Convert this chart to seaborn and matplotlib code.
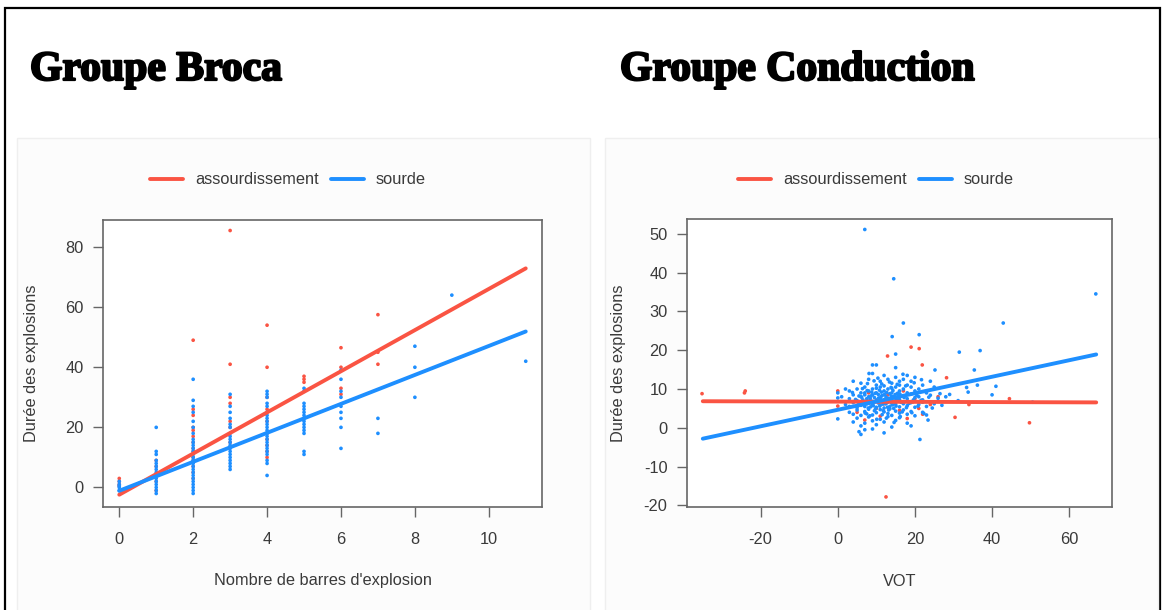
import matplotlib
matplotlib.use("Agg")
import matplotlib.pyplot as plt
import matplotlib.patheffects as pe
from matplotlib.lines import Line2D
from matplotlib.patches import Rectangle
import seaborn as sns
import pandas as pd

# --- data ---
labels = ["assourdissement", "sourde"]
red = "#FA5443"
blue = "#1E8FFF"

# Groupe Broca: durée des explosions per number of burst bars
broca_bars = [0, 1, 2, 3, 4, 5, 6, 7, 8, 9, 11]
broca_blue = [
    [-1, 0, 0.5, 1, 2],
    [20, 12, 11, 9, 8, 7, 6, 5, 4, 3, 2, 1, 0, -1, -2],
    [36, 29, 27, 25, 22, 20, 18, 16, 15, 14, 13, 12, 11, 10, 9, 8, 7, 6, 5, 4, 3, 2, 1, 0, -1, -2],
    [31, 27, 25, 23, 21, 20, 18, 17, 16, 15, 14, 13, 12, 11, 10, 9, 8, 7, 6],
    [32, 31, 30, 28, 27, 25, 24, 23, 22, 21, 20, 19, 18, 17, 16, 15, 14, 13, 12, 11, 9, 8, 4],
    [33, 32, 28, 27, 26, 25, 24, 23, 22, 21, 20, 19, 18, 12, 11],
    [39, 36, 32, 30, 27, 25, 23, 20, 13],
    [23, 18],
    [47, 40, 30],
    [64],
    [42],
]
broca_red = [
    [3, 2, 1, 0.5],
    [9, 7, 4, 2, -1],
    [49, 26, 24, 20, 19, 17, 15, 13, 12, 10, 9, 7, 5, 3],
    [85.5, 41, 30, 28, 22, 20, 15],
    [54, 40, 30, 26, 22, 18, 16, 14, 12, 10],
    [37, 36, 35],
    [46.5, 40, 33, 31],
    [57.5, 45, 41],
    [],
    [],
    [],
]
# fitted lines (end points)
broca_fit_x = [0, 11]
broca_fit_red = [-2.4, 72.9]
broca_fit_blue = [-1.1, 51.9]

# Groupe Conduction: (VOT, durée)
cond_blue = [
    (4, 12), (6, 11.5), (8, 12.5), (10, 11), (11, 12), (13, 12.5), (14, 11.5), (15, 13), (16, 12),
    (17, 12.5), (18, 11), (19, 12), (20, 13), (22, 11), (24, 12), (12, 13.5), (9, 14), (18, 13.5),
    (2, 10), (3, 9.5), (5, 10), (6, 9), (7, 10.5), (8, 9.5), (9, 10), (10, 9), (11, 10.5), (12, 9.5),
    (13, 10), (14, 9), (15, 10.5), (16, 9.5), (17, 10), (18, 9), (19, 10.5), (20, 9.5), (21, 10),
    (23, 9), (25, 10.5), (7, 9), (10, 10.2), (12, 10.8), (14, 10.2), (16, 11),
    (1, 8), (3, 7.5), (4, 8.5), (5, 7), (5.5, 8.2), (6, 8), (6.5, 7.2), (7, 8.5), (7.5, 7.5), (8, 8),
    (8.5, 7), (9, 8.5), (9.5, 7.8), (10, 7.2), (10.5, 8.6), (11, 7.5), (11.5, 8.3), (12, 7), (12.5, 8),
    (13, 7.6), (13.5, 8.8), (14, 7.2), (14.5, 8.1), (15, 7.7), (15.5, 8.9), (16, 7.3), (17, 8.2),
    (18, 7.5), (19, 8.7), (20, 7.8), (21, 8), (22, 7.2), (24, 8.4), (26, 7.6), (28, 8),
    (2, 6), (3, 5.5), (4, 6.5), (5, 5.2), (5.5, 6.3), (6, 5.8), (6.5, 6.8), (7, 5.5), (7.5, 6.2),
    (8, 6.9), (8.5, 5.4), (9, 6.1), (9.5, 6.7), (10, 5.3), (10.5, 6.4), (11, 5.9), (11.5, 6.8),
    (12, 5.1), (12.5, 6.2), (13, 6.6), (13.5, 5.5), (14, 6.3), (14.5, 5.0), (15, 6.1), (15.5, 6.9),
    (16, 5.4), (17, 6.2), (18, 5.7), (19, 6.5), (20, 5.3), (21, 6.0), (22, 6.6), (23, 5.5), (25, 6.2),
    (27, 5.8),
    (3, 4), (4, 3.5), (5, 4.6), (6, 3.2), (7, 4.2), (7.5, 3.6), (8, 4.8), (9, 3.3), (9.5, 4.4),
    (10, 3.9), (11, 4.7), (11.5, 3.4), (12, 4.1), (13, 3.7), (13.5, 4.9), (14, 3.2), (15, 4.3),
    (16, 3.8), (17, 4.6), (18, 3.5), (19, 4.2), (20, 3.1), (22, 4.0), (23, 3.3),
    (0, 2.3), (4, 1.5), (5, 2.5), (6, 0.5), (7, 1.2), (8, 2.8), (9, 1.8), (10, 0.8), (11, 2.2),
    (12, 1.5), (13, 2.9), (14, 0.2), (15, 1.9), (16, 2.6), (18, 1.2), (19, 0.5), (23.4, 2), (22.3, 3.7),
    (6, -1.7), (5.5, -1), (7, -0.5), (21.3, -3), (12, -1.3), (9, -0.3),
    (6.2, 7.9), (7.3, 6.4), (8.4, 7.6), (9.2, 5.7), (10.3, 6.9), (11.2, 8.1), (12.3, 6.5), (13.1, 7.3),
    (14.2, 5.9), (15.3, 7.1), (16.4, 6.6), (17.2, 7.8), (8.8, 9.2), (10.8, 9.7), (12.7, 9.1),
    (13.8, 10.4), (15.8, 8.4), (11.8, 4.4), (9.8, 4.9), (13.2, 4.6), (7.9, 5.1), (6.8, 6.6),
    (10.6, 7.7), (12.1, 8.6), (14.7, 6.7), (16.7, 4.1), (18.5, 6.3), (19.6, 7.2), (20.5, 8.4),
    (9.4, 12.1), (11.4, 11.3), (13.4, 11.8), (15.4, 11.2), (17.6, 10.8), (8.3, 3.1), (10.1, 2.2),
    (12.6, 2.5), (14.6, 1.4), (16.2, 2.9), (7.1, 3.8), (5.2, 5.8), (4.6, 7.3), (3.8, 9.1),
    (11.7, 6.1), (12.9, 5.3), (13.6, 6.9), (14.9, 8.6), (9.7, 8.9), (8.6, 8.2), (7.6, 9.6),
    (6.4, 10.1), (17.8, 5.2), (19.2, 3.9), (20.8, 5.6), (21.6, 7.1), (23.6, 7.9), (24.5, 5.1),
    (9.1, 6.8), (10.9, 5.6), (12.4, 7.4), (13.9, 8.1), (15.1, 5.6), (16.1, 8.7), (11.3, 9.2),
    (14.3, 9.6), (7.7, 11.4), (10.4, 12.8), (16.9, 13.8), (19.8, 11.6), (21.7, 12.4),
    (0, 9), (0, 7.7), (7, 51.1), (14.5, 38.4), (66.9, 34.5), (17, 27), (42.9, 27), (21.1, 24),
    (14.1, 23.5), (36.9, 19.9), (31.5, 19.5), (15, 19), (9, 16.2), (10, 16.2), (15, 15.5),
    (35.4, 14.9), (25.2, 14.9), (8.1, 14), (50.5, 6.6), (40, 8.5), (41, 10.7), (36.2, 11),
    (33.4, 10.4), (33.8, 9.2), (31.2, 7), (26.5, 8.8), (29, 8.6),
]
cond_red = [
    (-35.2, 8.8), (-24, 9.5), (-24.2, 9.0), (0, 9.5), (0, 5.6), (12.9, 18.5), (19, 20.8),
    (21.1, 20.4), (21.9, 16.2), (28.2, 12.9), (30.4, 2.7), (34, 6), (44.5, 7.5), (49.7, 1.3),
    (12.5, -17.8), (7, 2), (18, 2.4), (12.2, 6.2), (19.5, 6.7), (10, 5), (5, 4), (8, 9), (9, 6),
    (11, 3), (13, 8.5), (15, 7), (16, 4.5), (17, 9.5), (20, 7.5), (21, 5), (22, 3.5), (24, 6), (26, 8),
]
cond_fit_x = [-35, 67]
cond_fit_red = [6.85, 6.55]
cond_fit_blue = [-2.8, 18.9]

# --- tables ---
broca_rows = []
for bars, vals in zip(broca_bars, broca_red):
    broca_rows += [(bars, v, labels[0]) for v in vals]
for bars, vals in zip(broca_bars, broca_blue):
    broca_rows += [(bars, v, labels[1]) for v in vals]
broca_df = pd.DataFrame(broca_rows, columns=["nb", "duree", "type"])

cond_rows = [(x, y, labels[0]) for x, y in cond_red] + [(x, y, labels[1]) for x, y in cond_blue]
cond_df = pd.DataFrame(cond_rows, columns=["vot", "duree", "type"])

# --- style ---
sns.set_theme(style="white")
plt.rcParams["font.family"] = ["Liberation Sans", "DejaVu Sans"]
plt.rcParams["axes.unicode_minus"] = False
txt = "#3a3a3a"
edge = "#666666"
fs = 11.8

W, H = 1164, 610
fig = plt.figure(figsize=(W / 100, H / 100), dpi=100)


def fx(px):
    return px / W


def fy(py):
    return 1 - py / H


# slide frame and faint panel backgrounds (behind the axes)
fig.patches.append(Rectangle((fx(5), fy(640)), fx(1160) - fx(5), fy(8) - fy(640),
                             transform=fig.transFigure, fill=False, ec="black", lw=1.6, zorder=-2))
for x0, x1 in [(17, 590), (605, 1158)]:
    fig.patches.append(Rectangle((fx(x0), fy(640)), fx(x1) - fx(x0), fy(138) - fy(640),
                                 transform=fig.transFigure, fc="#fcfcfc", ec="#efefef", lw=1,
                                 zorder=-1))

title_fx = [pe.withStroke(linewidth=1.6, foreground="black")]
fig.text(fx(30), fy(80), "Groupe Broca", fontsize=30, fontweight="bold", color="black",
         family="Liberation Serif", va="baseline", path_effects=title_fx)
fig.text(fx(620), fy(80), "Groupe Conduction", fontsize=30, fontweight="bold", color="black",
         family="Liberation Serif", va="baseline", path_effects=title_fx)

pal = {labels[0]: red, labels[1]: blue}


def setup(ax, xlim, ylim, xticks, yticks, xlabel, ylab_px):
    ax.set_xlim(xlim)
    ax.set_ylim(ylim)
    ax.set_xticks(xticks)
    ax.set_yticks(yticks)
    ax.set_xlabel(xlabel, fontsize=fs, color=txt)
    ax.set_ylabel("Durée des explosions", fontsize=fs, color=txt)
    ax.xaxis.set_label_coords(0.5, fy(581), transform=ax.get_xaxis_transform().__class__(
        ax.transAxes, fig.transFigure))
    ax.yaxis.set_label_coords(fx(ylab_px), fy(363), transform=fig.transFigure)
    ax.xaxis.label.set_va("center")
    ax.yaxis.label.set_va("center")
    ax.tick_params(axis="both", which="both", direction="out", length=7, width=1,
                   color=edge, labelcolor=txt, labelsize=fs, bottom=True, left=True)
    ax.tick_params(axis="x", pad=11)
    ax.tick_params(axis="y", pad=7)
    for s in ax.spines.values():
        s.set_color(edge)
        s.set_linewidth(1.2)
        s.set_visible(True)
    ax.set_facecolor("white")


# left panel
ax1 = fig.add_axes([fx(103), fy(507), fx(542) - fx(103), fy(220) - fy(507)])
sns.lineplot(x=broca_fit_x, y=broca_fit_red, color=red, lw=2.8, ax=ax1)
sns.lineplot(x=broca_fit_x, y=broca_fit_blue, color=blue, lw=2.8, ax=ax1)
sns.scatterplot(data=broca_df, x="nb", y="duree", hue="type", palette=pal, s=7,
                linewidth=0, legend=False, ax=ax1)
setup(ax1, (-0.44, 11.44), (-6.5, 89.0), [0, 2, 4, 6, 8, 10], [0, 20, 40, 60, 80],
      "Nombre de barres d'explosion", 32)

# right panel
ax2 = fig.add_axes([fx(687), fy(507), fx(1112) - fx(687), fy(219) - fy(507)])
sns.lineplot(x=cond_fit_x, y=cond_fit_red, color=red, lw=2.8, ax=ax2)
sns.lineplot(x=cond_fit_x, y=cond_fit_blue, color=blue, lw=2.8, ax=ax2)
sns.scatterplot(data=cond_df, x="vot", y="duree", hue="type", palette=pal, s=7,
                linewidth=0, legend=False, ax=ax2)
setup(ax2, (-39.1, 71.1), (-20.4, 53.8), [-20, 0, 20, 40, 60], [-20, -10, 0, 10, 20, 30, 40, 50],
      "VOT", 618)

handles = [Line2D([], [], color=red, lw=2.8), Line2D([], [], color=blue, lw=2.8)]
for ax, cx in [(ax1, 288), (ax2, 876)]:
    ax.legend(handles, labels, loc="center", bbox_to_anchor=(fx(cx), fy(180)),
              bbox_transform=fig.transFigure, ncol=2, frameon=False, fontsize=fs,
              handlelength=2.0, handletextpad=0.75, columnspacing=0.75, labelcolor=txt)

fig.savefig("out.png", dpi=100)
